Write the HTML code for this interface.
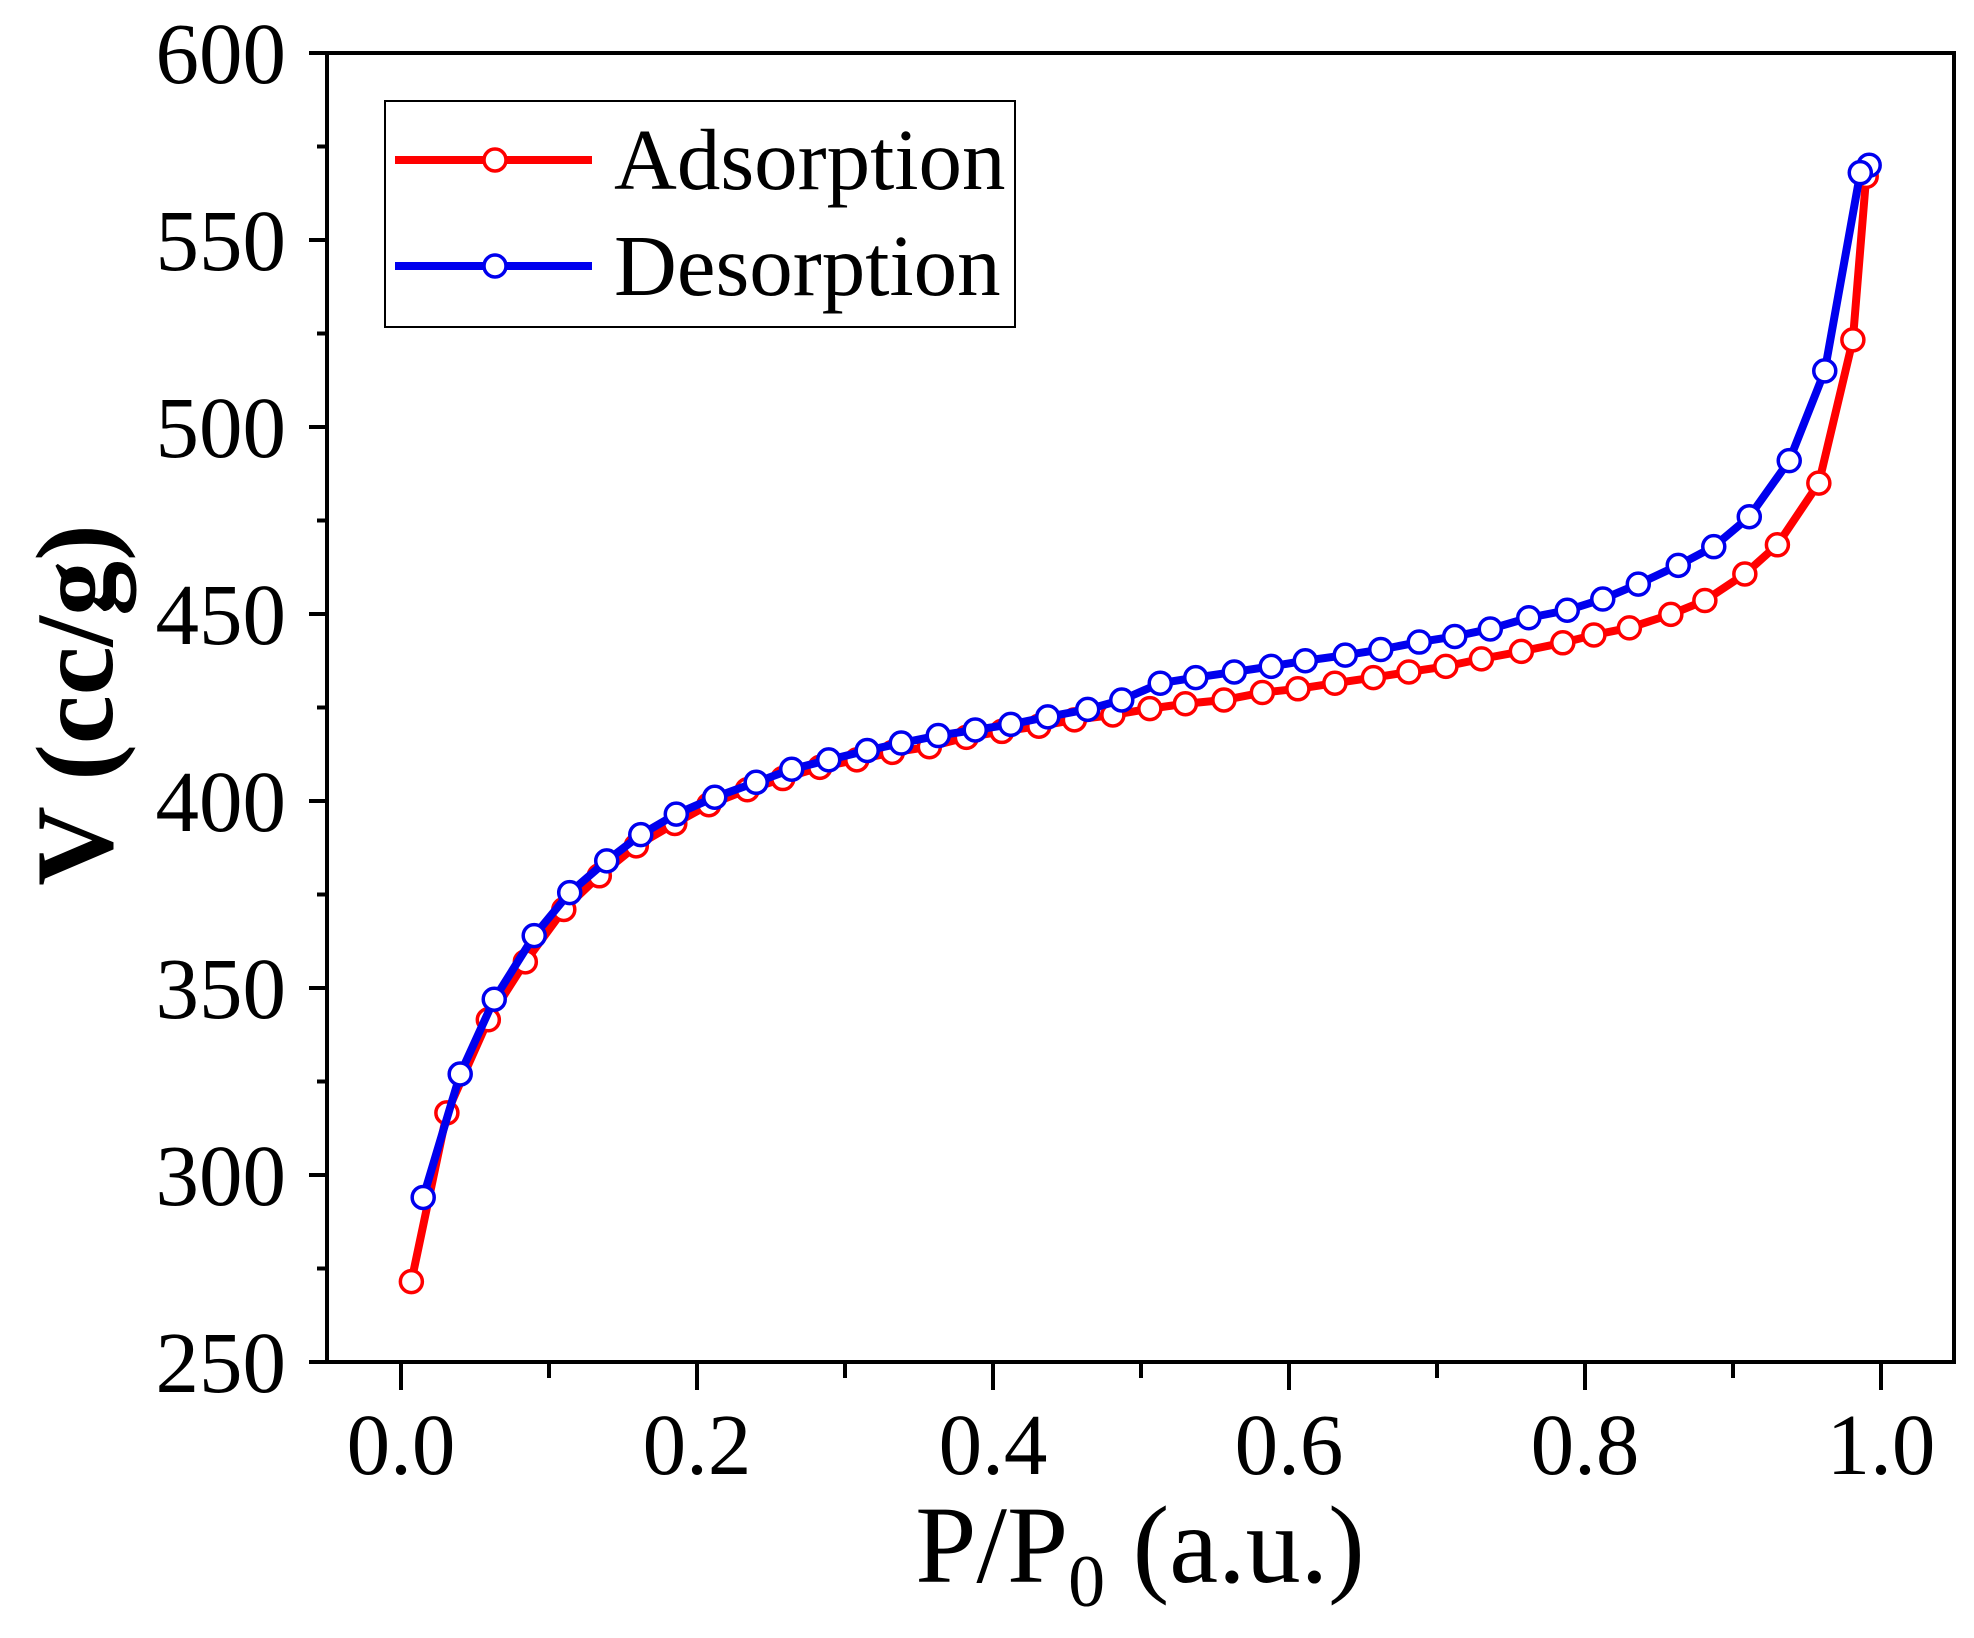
<!DOCTYPE html>
<html><head><meta charset="utf-8"><style>
html,body{margin:0;padding:0;background:#fff}
svg{display:block}
text{font-family:"Liberation Serif",serif;fill:#000}
</style></head><body>
<svg id="chart" width="1974" height="1638" viewBox="0 0 1974 1638" xmlns="http://www.w3.org/2000/svg">
<g id="plot"></g>
</svg>
<script>
const adsX=[0.007,0.031,0.059,0.084,0.11,0.134,0.159,0.185,0.208,0.234,0.258,0.283,0.308,0.332,0.357,0.382,0.406,0.431,0.455,0.481,0.506,0.53,0.556,0.582,0.606,0.631,0.657,0.681,0.706,0.73,0.757,0.785,0.806,0.83,0.858,0.881,0.908,0.93,0.958,0.981,0.99];
const adsV=[271.5,316.6,341.5,357,371,380,388,394,399,403,406,409,411,413,414.5,417,418.6,420,421.7,423,424.7,426,427,429,430,431.5,433,434.5,436,438,440,442.3,444.4,446.3,449.9,453.6,460.7,468.5,485,523.3,567];
const desX=[0.992,0.986,0.962,0.938,0.911,0.887,0.863,0.836,0.812,0.788,0.762,0.736,0.712,0.688,0.662,0.638,0.611,0.588,0.563,0.537,0.513,0.487,0.464,0.437,0.412,0.388,0.363,0.338,0.315,0.289,0.264,0.240,0.212,0.186,0.162,0.139,0.114,0.090,0.063,0.040,0.015];
const desV=[570,568,515,491,476,468,463,458,454,451,449,446,444,442.5,440.5,439,437.5,436,434.5,433,431.5,427,424.5,422.5,420.5,419,417.5,415.5,413.5,411,408.5,405,401,396.5,391,384,375.5,364,347,327,294];
const xTicks=[0.0,0.2,0.4,0.6,0.8,1.0];
const xTickLabels=["0.0","0.2","0.4","0.6","0.8","1.0"];
const yTicks=[250,300,350,400,450,500,550,600];
const yTickLabels=["250","300","350","400","450","500","550","600"];

const L=327,R=1954,T=53,B=1362;
const X=v=>401+(v)*1480;
const Y=v=>B-(v-250)*(B-T)/350;
const NS="http://www.w3.org/2000/svg";
const g=document.getElementById('plot');
function mk(tag,attrs,parent){const e=document.createElementNS(NS,tag);for(const k in attrs)e.setAttribute(k,attrs[k]);(parent||g).appendChild(e);return e;}

let fr=mk('rect',{x:L,y:T,width:R-L,height:B-T,fill:'none',stroke:'#000','stroke-width':4});



for(let v=250;v<=600;v+=25){
  const major=(v%50===0);
  const t=mk('line',{x1:L,x2:L-(major?18:10),y1:Y(v),y2:Y(v),stroke:'#000','stroke-width':4});
  
  
}
yTicks.forEach((v,i)=>{
  const t=mk('text',{x:286,y:Y(v)+30,'font-size':87,'text-anchor':'end'});
  t.textContent=yTickLabels[i];
  
  
});
for(let k=0;k<=10;k++){
  const v=k/10;const major=(k%2===0);
  const t=mk('line',{x1:X(v),x2:X(v),y1:B,y2:B+(major?28:16),stroke:'#000','stroke-width':4});
  
  
}
xTicks.forEach((v,i)=>{
  const t=mk('text',{x:X(v),y:1474,'font-size':87,'text-anchor':'middle'});
  t.textContent=xTickLabels[i];
  
  
});
let xt=mk('text',{x:1140,y:1582,'font-size':110,'text-anchor':'middle'});
xt.innerHTML='P/P<tspan font-size="74" dy="24">0</tspan><tspan dy="-24"> (a.u.)</tspan>';


let yt=mk('text',{x:0,y:0,'font-size':110,'font-weight':'bold','text-anchor':'middle',transform:'translate(112,705) rotate(-90)'});
yt.textContent='V (cc/g)';



function series(xs,vs,color,name){
  const grp=mk('g',{});
  
  
  const pts=xs.map((x,i)=>X(x)+','+Y(vs[i])).join(' ');
  const pl=mk('polyline',{points:pts,fill:'none',stroke:color,'stroke-width':8,'stroke-linejoin':'round'},grp);
  
  
  xs.forEach((x,i)=>{
    const c=mk('circle',{cx:X(x),cy:Y(vs[i]),r:11,fill:'#fff',stroke:color,'stroke-width':3.5},grp);
    
    
  });
}
series(adsX,adsV,'#ff0000','adsorption');
series(desX,desV,'#0000ee','desorption');

const lg=mk('g',{});


mk('rect',{x:385,y:101,width:630,height:226,fill:'#fff',stroke:'#000','stroke-width':2},lg);
[['Adsorption','#ff0000',160],['Desorption','#0000ee',266]].forEach(([lab,col,y])=>{
  const e=mk('g',{},lg);
  
  
  mk('line',{x1:395,x2:592,y1:y,y2:y,stroke:col,'stroke-width':8},e);
  mk('circle',{cx:495,cy:y,r:11,fill:'#fff',stroke:col,'stroke-width':3.5},e);
  const t=mk('text',{x:614,y:y+29,'font-size':87},e);
  t.textContent=lab;
});
</script>
</body></html>
